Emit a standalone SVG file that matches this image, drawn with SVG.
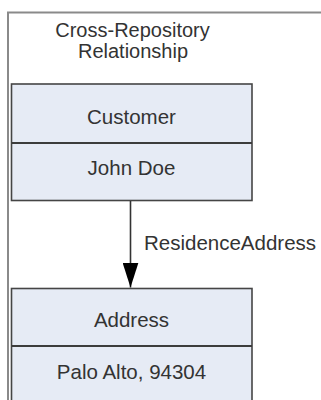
<svg xmlns="http://www.w3.org/2000/svg" width="321" height="400" viewBox="0 0 321 400">
  <defs>
    <style>
      .frame { fill: none; stroke: #8a8a8a; stroke-width: 2; }
      .entity { fill: #e6ebf5; stroke: #454545; stroke-width: 1.6; }
      .divider { stroke: #3c3c3c; stroke-width: 2; }
      .label { font-family: "Liberation Sans", Arial, sans-serif; font-size: 20.5px; fill: #333333; text-anchor: middle; }
      .title { font-family: "Liberation Sans", Arial, sans-serif; font-size: 20px; fill: #333333; text-anchor: middle; }
      .edge-label { font-family: "Liberation Sans", Arial, sans-serif; font-size: 20.5px; fill: #333333; }
      .edge { stroke: #333333; stroke-width: 1.6; fill: none; }
    </style>
    <!-- filled triangular head, drawn pointing along +x so orient="auto" follows the line -->
    <marker id="arrowhead" markerUnits="userSpaceOnUse" markerWidth="26" markerHeight="16" refX="25" refY="8" orient="auto" viewBox="0 0 26 16">
      <polygon points="0,0 25,8 0,16" fill="#000000"/>
    </marker>
  </defs>

  <rect width="321" height="400" fill="#ffffff"/>

  <!-- enclosing frame, open to the right and bottom -->
  <path class="frame" d="M8,400 V12.5 H321"/>

  <!-- frame title -->
  <g id="title">
    <text class="title" x="132.5" y="37">Cross-Repository</text>
    <text class="title" x="133" y="58">Relationship</text>
  </g>

  <!-- source entity -->
  <g id="customer">
    <rect class="entity" x="11.5" y="84" width="240.5" height="116.5"/>
    <line class="divider" x1="11.5" y1="143" x2="252" y2="143"/>
    <text class="label" x="131.5" y="124">Customer</text>
    <text class="label" x="131.5" y="175">John Doe</text>
  </g>

  <!-- target entity, continues past the bottom edge -->
  <g id="address">
    <rect class="entity" x="11.5" y="288.5" width="240.5" height="140"/>
    <line class="divider" x1="11.5" y1="346" x2="252" y2="346"/>
    <text class="label" x="131.5" y="327">Address</text>
    <text class="label" x="131.5" y="379">Palo Alto, 94304</text>
  </g>

  <!-- connectors -->
  <g id="connectors">
    <line class="edge" x1="130.5" y1="201" x2="130.5" y2="287.5" marker-end="url(#arrowhead)"/>
    <text class="edge-label" x="144" y="250">ResidenceAddress</text>
  </g>
</svg>
